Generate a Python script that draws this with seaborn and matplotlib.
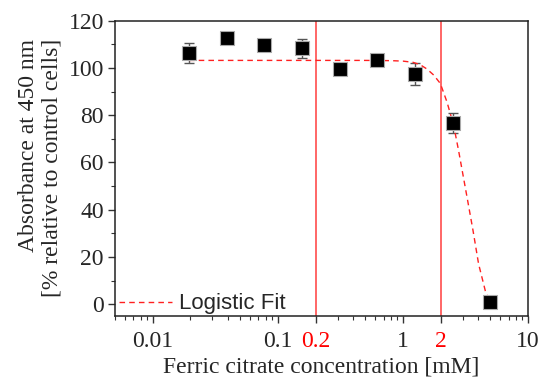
import numpy as np
import pandas as pd
import matplotlib
matplotlib.use("Agg")
import matplotlib.pyplot as plt
import seaborn as sns
from matplotlib.ticker import LogLocator, NullFormatter, MultipleLocator

# -------------------------------------------------
# Data
# -------------------------------------------------
conc = [0.0195, 0.039, 0.078, 0.156, 0.3125, 0.625, 1.25, 2.5, 5.0]
absorb = [106.4, 112.8, 109.7, 108.3, 99.5, 103.3, 97.4, 76.7, 0.7]
err = [4.2, 1.0, 1.5, 4.0, 1.0, 1.0, 4.7, 4.4, 1.0]

fit_x = [0.0195, 0.2, 0.5, 0.8, 1.0, 1.2, 1.37, 1.55, 1.76, 1.99, 2.25,
         2.54, 2.78, 3.01, 3.25, 3.63, 4.02, 4.55, 5.0]
fit_y = [103.2, 103.2, 103.2, 103.1, 102.9, 102.4, 101.4, 99.6, 97.0, 93.4,
         85.5, 75.7, 65.1, 55.0, 45.3, 31.1, 17.0, 5.6, 0.7]

marker_lines = [0.2, 2]
major_ticks = [0.01, 0.1, 1, 10]
major_labels = ["0.01", "0.1", "1", "10"]

points = pd.DataFrame({"conc": conc, "absorb": absorb, "err": err})
fit = pd.DataFrame({"x": fit_x, "y": fit_y})

# -------------------------------------------------
# Plot Settings
# -------------------------------------------------
sns.set_theme(style="ticks")
plt.rcParams["font.family"] = ["Liberation Serif", "DejaVu Serif"]
plt.rcParams["axes.linewidth"] = 1.1

fig = plt.figure(figsize=(5.4, 3.77), dpi=100)
ax = fig.add_axes([0.213, 0.162, 0.765, 0.783])

# vertical reference lines
for v in marker_lines:
    ax.axvline(v, color="#ff5a5a", lw=1.3, zorder=1)

# error bars
ax.errorbar(points["conc"], points["absorb"], yerr=points["err"], fmt="none",
            ecolor="#555555", elinewidth=1.0, capsize=3.5, capthick=1.0, zorder=2)

# logistic fit
sns.lineplot(data=fit, x="x", y="y", ax=ax, color="#ff2020", lw=1.0,
             linestyle=(0, (4, 3)), estimator=None, sort=False,
             label="Logistic Fit", zorder=3)

# data points
sns.scatterplot(data=points, x="conc", y="absorb", ax=ax, marker="s", s=95,
                color="black", edgecolor="#aaaaaa", linewidth=0.8, zorder=4,
                legend=False)

ax.set_xscale("log")
ax.set_xlim(0.005, 10)
ax.set_ylim(-5, 120)

ax.set_xticks(major_ticks + marker_lines)
ax.set_xticklabels(major_labels + [str(v) for v in marker_lines])
for lbl in ax.get_xticklabels()[len(major_ticks):]:
    lbl.set_color("red")
ax.xaxis.set_minor_locator(LogLocator(base=10, subs=np.arange(2, 10)))
ax.xaxis.set_minor_formatter(NullFormatter())

ax.yaxis.set_major_locator(MultipleLocator(20))
ax.yaxis.set_minor_locator(MultipleLocator(10))

ax.tick_params(axis="both", which="major", direction="out", length=5,
               width=1.0, labelsize=17, color="#333333")
ax.tick_params(axis="both", which="minor", direction="out", length=3,
               width=0.8, color="#333333")
ax.tick_params(axis="x", which="major", pad=6)
ax.tick_params(axis="y", which="major", pad=3)

for side in ["top", "right", "left", "bottom"]:
    ax.spines[side].set_visible(True)
    ax.spines[side].set_color("#222222")

ax.set_xlabel("Ferric citrate concentration [mM]", fontsize=17, labelpad=3)
ax.set_ylabel("Absorbance at 450 nm\n[% relative to control cells]",
              fontsize=17, labelpad=4, multialignment="right",
              linespacing=1.2)

leg = ax.legend(loc="lower left", frameon=False, handlelength=2.4,
                handletextpad=0.3, borderaxespad=0.0,
                bbox_to_anchor=(-0.012, -0.025),
                prop={"family": "Liberation Sans", "size": 16})

plt.savefig("out.png", dpi=100)
